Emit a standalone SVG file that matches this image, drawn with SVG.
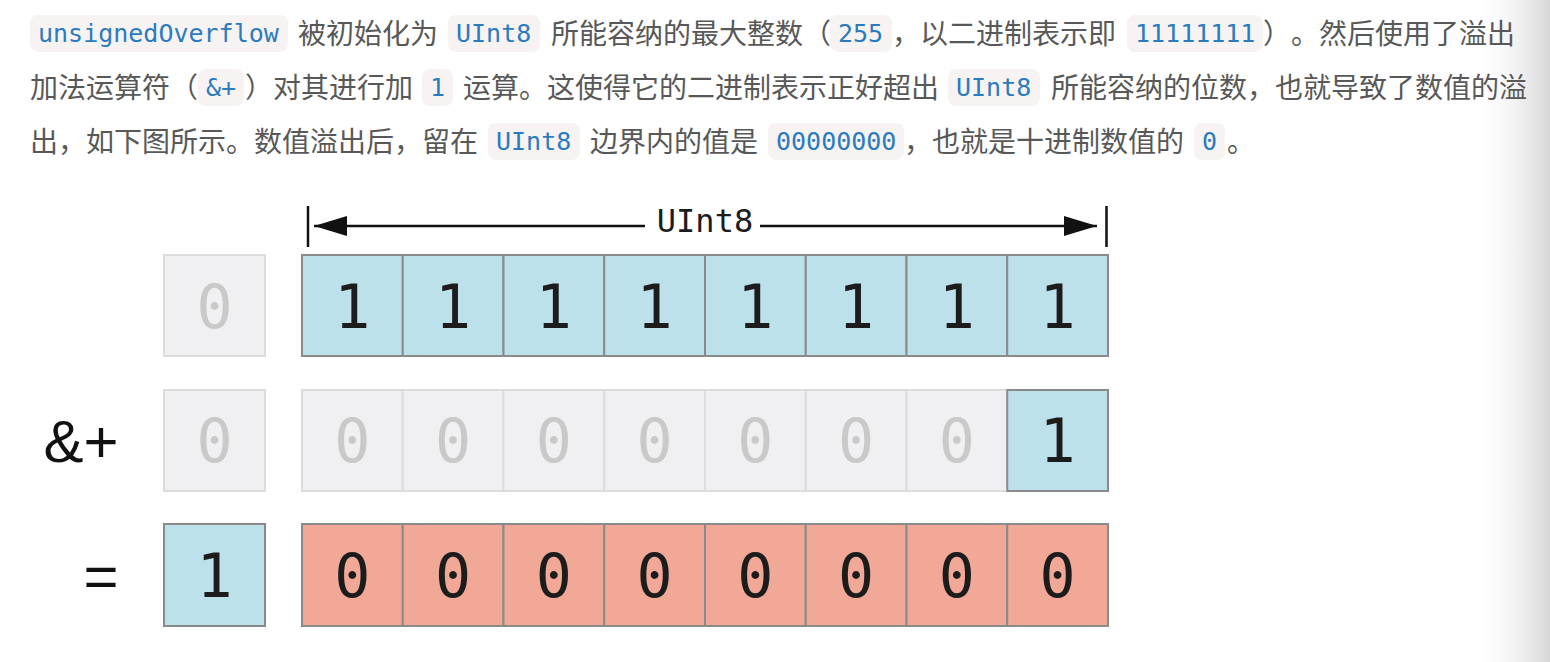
<svg xmlns="http://www.w3.org/2000/svg" width="1550" height="662" viewBox="0 0 1550 662">
<style>
.body{font-family:"Noto Sans CJK SC","Noto Sans",sans-serif;font-size:28px;fill:#585858;text-spacing-trim:space-all}
.code{font-family:"DejaVu Sans Mono","Liberation Mono",monospace;font-size:25px;fill:#2b7bbf}
.pill{fill:#f7f3f3}
.blue{fill:#bde1eb;stroke:#8a8a8a;stroke-width:2}
.red{fill:#f1a897;stroke:#8a8a8a;stroke-width:2}
.gray{fill:#f0f0f2;stroke:#dcdcdc;stroke-width:2}
.d{font-family:"DejaVu Sans Mono","Liberation Mono",monospace;font-size:60px;text-anchor:middle;fill:#1c1c1c}
.dg{font-family:"DejaVu Sans Mono","Liberation Mono",monospace;font-size:60px;text-anchor:middle;fill:#c9c9c9}
.op{font-family:"Liberation Sans","DejaVu Sans",sans-serif;font-size:60px;text-anchor:middle;fill:#111111}
.dim{stroke:#111111;stroke-width:2.5;fill:none}
</style>
<defs>
<linearGradient id="shade" x1="0" y1="0" x2="1" y2="0">
<stop offset="0" stop-color="#ffffff" stop-opacity="0"/>
<stop offset="1" stop-color="#d6d6d6" stop-opacity="1"/>
</linearGradient>
<marker id="ah" viewBox="0 0 33 20" refX="33" refY="10" markerWidth="33" markerHeight="20" markerUnits="userSpaceOnUse" orient="auto">
<path d="M0,0 L33,10 L0,20 Z" fill="#111111"/>
</marker>
</defs>
<rect x="0" y="0" width="1550" height="662" fill="#ffffff"/>
<rect x="1470" y="0" width="80" height="662" fill="url(#shade)"/>

<g id="paragraph">
<rect class="pill" x="30" y="15" width="258" height="37" rx="8"/>
<text class="code" x="38" y="42">unsignedOverflow</text>
<text class="body" x="298" y="44">被初始化为</text>
<rect class="pill" x="448" y="15" width="92" height="37" rx="8"/>
<text class="code" x="456" y="42">UInt8</text>
<text class="body" x="551" y="44">所能容纳的最大整数（</text>
<rect class="pill" x="830" y="15" width="62" height="37" rx="8"/>
<text class="code" x="838" y="42">255</text>
<text class="body" x="892" y="44">，以二进制表示即</text>
<rect class="pill" x="1127" y="15" width="136" height="37" rx="8"/>
<text class="code" x="1135" y="42">11111111</text>
<text class="body" x="1263" y="44">）。然后使用了溢出</text>

<text class="body" x="30" y="98">加法运算符（</text>
<rect class="pill" x="198" y="69" width="46" height="37" rx="8"/>
<text class="code" x="206" y="96">&amp;+</text>
<text class="body" x="245" y="98">）对其进行加</text>
<rect class="pill" x="422" y="69" width="31" height="37" rx="8"/>
<text class="code" x="430" y="96">1</text>
<text class="body" x="463" y="98">运算。这使得它的二进制表示正好超出</text>
<rect class="pill" x="948" y="69" width="92" height="37" rx="8"/>
<text class="code" x="956" y="96">UInt8</text>
<text class="body" x="1051" y="98">所能容纳的位数，也就导致了数值的溢</text>

<text class="body" x="30" y="152">出，如下图所示。数值溢出后，留在</text>
<rect class="pill" x="488" y="123" width="92" height="37" rx="8"/>
<text class="code" x="496" y="150">UInt8</text>
<text class="body" x="590" y="152">边界内的值是</text>
<rect class="pill" x="768" y="123" width="136" height="37" rx="8"/>
<text class="code" x="776" y="150">00000000</text>
<text class="body" x="904" y="152">，也就是十进制数值的</text>
<rect class="pill" x="1194" y="123" width="31" height="37" rx="8"/>
<text class="code" x="1202" y="150">0</text>
<text class="body" x="1227" y="152">。</text>
</g>

<g id="connectors">
<line class="dim" x1="308" y1="206" x2="308" y2="247"/>
<line class="dim" x1="1106.5" y1="206" x2="1106.5" y2="247"/>
<line class="dim" x1="645" y1="226" x2="314" y2="226" marker-end="url(#ah)"/>
<line class="dim" x1="760" y1="226" x2="1097" y2="226" marker-end="url(#ah)"/>
<text id="dim-label" x="705" y="232" text-anchor="middle" font-family="DejaVu Sans Mono, Liberation Mono, monospace" font-size="32" fill="#1c1c1c">UInt8</text>
</g>

<g id="row1-carry"><rect class="gray" x="164" y="255" width="101" height="101"/><text class="dg" x="214.5" y="328">0</text></g>
<g id="row1-bit7"><rect class="blue" x="302" y="255" width="100.75" height="101"/><text class="d" x="352.4" y="328">1</text></g>
<g id="row1-bit6"><rect class="blue" x="402.75" y="255" width="100.75" height="101"/><text class="d" x="453.1" y="328">1</text></g>
<g id="row1-bit5"><rect class="blue" x="503.5" y="255" width="100.75" height="101"/><text class="d" x="553.9" y="328">1</text></g>
<g id="row1-bit4"><rect class="blue" x="604.25" y="255" width="100.75" height="101"/><text class="d" x="654.6" y="328">1</text></g>
<g id="row1-bit3"><rect class="blue" x="705" y="255" width="100.75" height="101"/><text class="d" x="755.4" y="328">1</text></g>
<g id="row1-bit2"><rect class="blue" x="805.75" y="255" width="100.75" height="101"/><text class="d" x="856.1" y="328">1</text></g>
<g id="row1-bit1"><rect class="blue" x="906.5" y="255" width="100.75" height="101"/><text class="d" x="956.9" y="328">1</text></g>
<g id="row1-bit0"><rect class="blue" x="1007.25" y="255" width="100.75" height="101"/><text class="d" x="1057.6" y="328">1</text></g>

<g id="op-add"><text class="op" x="81" y="462">&amp;+</text></g>
<g id="row2-carry"><rect class="gray" x="164" y="390" width="101" height="101"/><text class="dg" x="214.5" y="462">0</text></g>
<g id="row2-bit7"><rect class="gray" x="302" y="390" width="100.75" height="101"/><text class="dg" x="352.4" y="462">0</text></g>
<g id="row2-bit6"><rect class="gray" x="402.75" y="390" width="100.75" height="101"/><text class="dg" x="453.1" y="462">0</text></g>
<g id="row2-bit5"><rect class="gray" x="503.5" y="390" width="100.75" height="101"/><text class="dg" x="553.9" y="462">0</text></g>
<g id="row2-bit4"><rect class="gray" x="604.25" y="390" width="100.75" height="101"/><text class="dg" x="654.6" y="462">0</text></g>
<g id="row2-bit3"><rect class="gray" x="705" y="390" width="100.75" height="101"/><text class="dg" x="755.4" y="462">0</text></g>
<g id="row2-bit2"><rect class="gray" x="805.75" y="390" width="100.75" height="101"/><text class="dg" x="856.1" y="462">0</text></g>
<g id="row2-bit1"><rect class="gray" x="906.5" y="390" width="100.75" height="101"/><text class="dg" x="956.9" y="462">0</text></g>
<g id="row2-bit0"><rect class="blue" x="1007.25" y="390" width="100.75" height="101"/><text class="d" x="1057.6" y="462">1</text></g>

<g id="op-eq"><text class="op" x="101" y="597">=</text></g>
<g id="row3-carry"><rect class="blue" x="164" y="524" width="101" height="102"/><text class="d" x="214.5" y="597">1</text></g>
<g id="row3-bit7"><rect class="red" x="302" y="524" width="100.75" height="102"/><text class="d" x="352.4" y="597">0</text></g>
<g id="row3-bit6"><rect class="red" x="402.75" y="524" width="100.75" height="102"/><text class="d" x="453.1" y="597">0</text></g>
<g id="row3-bit5"><rect class="red" x="503.5" y="524" width="100.75" height="102"/><text class="d" x="553.9" y="597">0</text></g>
<g id="row3-bit4"><rect class="red" x="604.25" y="524" width="100.75" height="102"/><text class="d" x="654.6" y="597">0</text></g>
<g id="row3-bit3"><rect class="red" x="705" y="524" width="100.75" height="102"/><text class="d" x="755.4" y="597">0</text></g>
<g id="row3-bit2"><rect class="red" x="805.75" y="524" width="100.75" height="102"/><text class="d" x="856.1" y="597">0</text></g>
<g id="row3-bit1"><rect class="red" x="906.5" y="524" width="100.75" height="102"/><text class="d" x="956.9" y="597">0</text></g>
<g id="row3-bit0"><rect class="red" x="1007.25" y="524" width="100.75" height="102"/><text class="d" x="1057.6" y="597">0</text></g>
</svg>
